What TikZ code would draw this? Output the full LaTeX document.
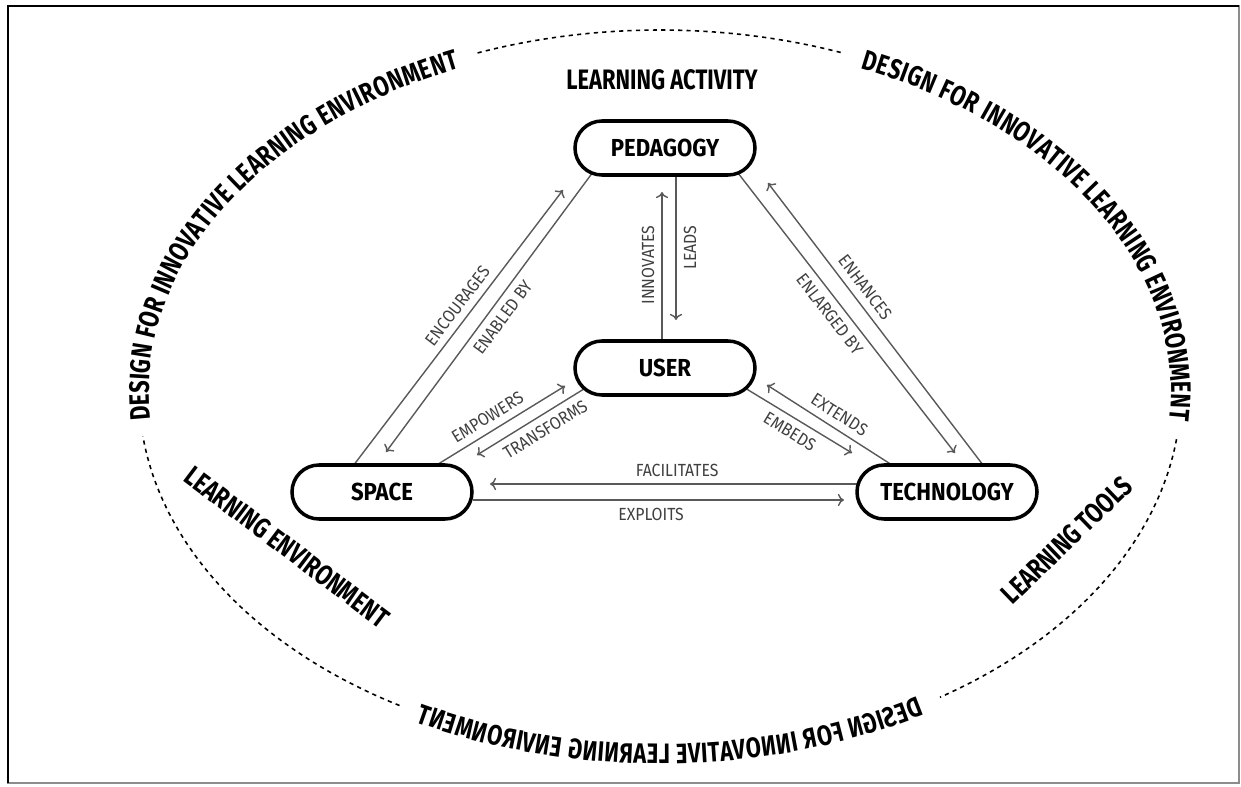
\documentclass[tikz,border=0pt]{standalone}
\usepackage{fontspec}
\setmainfont{Fira Sans}[FakeStretch=0.9]
\newfontfamily\ringfont{Fira Sans}[FakeStretch=0.78]
\usetikzlibrary{decorations.text}
\usetikzlibrary{arrows.meta}
\usetikzlibrary{backgrounds}
\usetikzlibrary{math}

\newcommand\ringstyle{\ringfont\bfseries\fontsize{16}{18}\selectfont}

\begin{document}
\begin{tikzpicture}[
    block/.style={draw=black, line width=2pt, fill=white, rounded corners=0.54cm,
        minimum width=3.6cm, minimum height=1.08cm, inner sep=0pt,
        font=\bfseries\fontsize{14}{16}\selectfont},
    link/.style={draw=black!65, line width=0.8pt, >={To[length=3.5pt,width=7pt]}},
    linklabel/.style={sloped, inner sep=1pt, text=black!75, font=\fontsize{10}{12}\selectfont},
    ringdash/.style={line width=0.9pt, dash pattern=on 2.4pt off 2.4pt},
    ringtext/.style={decorate, decoration={text along path, text align={fit to path}, raise=-5.6pt}},
    area/.style={font=\ringstyle}
]

% Ring settings
\tikzmath{
    \RingX = 10.42;
    \RingY = 7.24;
}

\useasboundingbox (0,0) rectangle (24.82,15.72);

% Draws frame
\draw [black!45, line width=0.8pt] (0.16,0.06) rectangle (24.78,15.60);
\draw [black, line width=1.6pt] (0.16,0.06) -- (0.16,15.60) -- (24.78,15.60);

\coordinate (Ring) at (13.20,7.88);

% Draws blocks
\node [block] (pedagogy) at (13.30,12.76) {PEDAGOGY};
\node [block] (user) at (13.30,8.36) {USER};
\node [block] (space) at (7.64,5.88) {SPACE};
\node [block] (technology) at (18.94,5.88) {TECHNOLOGY};

% Area titles
\node [area] (activity) at (13.24,14.12) {LEARNING ACTIVITY};
\node [area, rotate=-37] (environment) at (5.74,4.78) {LEARNING ENVIRONMENT};
\node [area, rotate=44] (tools) at (21.34,4.92) {LEARNING TOOLS};

% Draws links
\begin{scope}[on background layer]
\draw [link, ->] ([shift={(-0.58,0.52)}]space.center) -- ([shift={(-2.04,-0.84)}]pedagogy.center)
    node [linklabel, pos=0.55, above=3pt] {ENCOURAGES};
\draw [link, <-] ([shift={(0.08,0.80)}]space.center) -- ([shift={(-1.44,-0.48)}]pedagogy.center)
    node [linklabel, pos=0.51, below=3pt] {ENABLED BY};
\draw [link, ->] ([shift={(-0.06,0.54)}]user.center) -- ([shift={(-0.06,-0.88)}]pedagogy.center)
    node [linklabel, pos=0.51, above=3pt] {INNOVATES};
\draw [link, <-] ([shift={(0.22,0.96)}]user.center) -- ([shift={(0.22,-0.54)}]pedagogy.center)
    node [linklabel, pos=0.50, below=3pt] {LEADS};
\draw [link, ->] ([shift={(1.32,-0.32)}]pedagogy.center) -- ([shift={(0.16,0.78)}]technology.center)
    node [linklabel, pos=0.49, below=3pt] {ENLARGED BY};
\draw [link, <-] ([shift={(2.06,-0.70)}]pedagogy.center) -- ([shift={(0.72,0.54)}]technology.center)
    node [linklabel, pos=0.40, above=3pt] {ENHANCES};
\draw [link, ->] ([shift={(1.06,0.52)}]space.center) -- ([shift={(-2.00,-0.36)}]user.center)
    node [linklabel, pos=0.46, above=3pt] {EMPOWERS};
\draw [link, <-] ([shift={(1.90,0.74)}]space.center) -- ([shift={(-1.46,-0.32)}]user.center)
    node [linklabel, pos=0.53, below=3pt] {TRANSFORMS};
\draw [link, ->] ([shift={(1.50,-0.34)}]user.center) -- ([shift={(-1.90,0.78)}]technology.center)
    node [linklabel, pos=0.51, below=3pt] {EMBEDS};
\draw [link, <-] ([shift={(2.04,-0.34)}]user.center) -- ([shift={(-1.10,0.54)}]technology.center)
    node [linklabel, pos=0.52, above=3pt] {EXTENDS};
\draw [link, <-] ([shift={(2.16,0.16)}]space.center) -- ([shift={(-1.80,0.16)}]technology.center)
    node [linklabel, pos=0.51, above=3pt] {FACILITATES};
\draw [link, ->] ([shift={(1.82,-0.16)}]space.center) -- ([shift={(-2.06,-0.16)}]technology.center)
    node [linklabel, pos=0.48, below=3pt] {EXPLOITS};
\end{scope}

% Draws ring
\path [ringtext, decoration={text={|\ringstyle|DESIGN FOR INNOVATIVE LEARNING ENVIRONMENT}}]
    (Ring) ++(184.5:\RingX cm and \RingY cm) arc [start angle=184.5, end angle=113, x radius=\RingX cm, y radius=\RingY cm];
\path [ringtext, decoration={text={|\ringstyle|DESIGN FOR INNOVATIVE LEARNING ENVIRONMENT}}]
    (Ring) ++(67:\RingX cm and \RingY cm) arc [start angle=67, end angle=-4.5, x radius=\RingX cm, y radius=\RingY cm];
\begin{scope}[transform canvas={xshift=26.4cm, xscale=-1}]
\path [ringtext, decoration={text={|\ringstyle|DESIGN FOR INNOVATIVE LEARNING ENVIRONMENT}}]
    (Ring) ++(-120:\RingX cm and \RingY cm) arc [start angle=-120, end angle=-62.5, x radius=\RingX cm, y radius=\RingY cm];
\end{scope}
\draw [ringdash] (Ring) ++(110.5:\RingX cm and \RingY cm) arc [start angle=110.5, end angle=69.5, x radius=\RingX cm, y radius=\RingY cm];
\draw [ringdash] (Ring) ++(-7.5:\RingX cm and \RingY cm) arc [start angle=-7.5, end angle=-57.5, x radius=\RingX cm, y radius=\RingY cm];
\draw [ringdash] (Ring) ++(-120:\RingX cm and \RingY cm) arc [start angle=-120, end angle=-173, x radius=\RingX cm, y radius=\RingY cm];

\end{tikzpicture}
\end{document}
